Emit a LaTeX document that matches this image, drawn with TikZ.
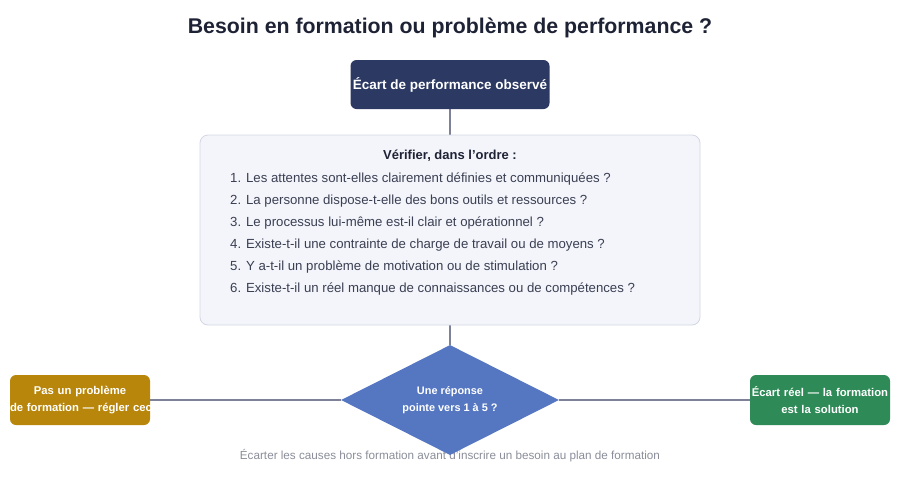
\documentclass[tikz,border=0pt]{standalone}
\usepackage{fontspec}
\setmainfont{Liberation Sans}
\definecolor{titlenavy}{RGB}{30, 34, 53}
\definecolor{boxnavy}{RGB}{44, 58, 99}
\definecolor{panelfill}{RGB}{244, 245, 251}
\definecolor{paneledge}{RGB}{211, 214, 228}
\definecolor{decblue}{RGB}{85, 119, 193}
\definecolor{nogold}{RGB}{184, 134, 11}
\definecolor{gogreen}{RGB}{46, 139, 87}
\definecolor{linkgray}{RGB}{125, 130, 152}
\definecolor{bodytext}{RGB}{58, 63, 82}
\definecolor{notegray}{RGB}{138, 141, 153}
\usetikzlibrary{shapes.geometric, positioning, backgrounds}
\tikzset{
  link/.style={draw=linkgray, line width=1.2pt},
  endbox/.style={rounded corners=6pt, minimum width=140pt, minimum height=50pt, text width=140pt,
    text=white, font=\bfseries\fontsize{11.3}{17}\selectfont, align=center, inner sep=0pt},
  checkline/.style={anchor=west, text=bodytext, font=\fontsize{13.2}{15}\selectfont, inner sep=0pt}
}
\begin{document}
\begin{tikzpicture}[x=1pt, y=-1pt]
  \useasboundingbox (0, 0) rectangle (900, 480);

  % Title
  \node[font=\bfseries\fontsize{21.3}{25}\selectfont, text=titlenavy] (title) at (450, 28)
    {Besoin en formation ou problème de performance ?};

  % Observed gap
  \node[fill=boxnavy, rounded corners=6pt, minimum width=199pt, minimum height=49pt,
    text=white, font=\bfseries\fontsize{13.5}{16}\selectfont, inner sep=0pt] (gap) at (450, 84.5)
    {Écart de performance observé};

  % Checklist panel
  \node[fill=panelfill, draw=paneledge, line width=0.8pt, rounded corners=8pt,
    minimum width=500pt, minimum height=190pt, inner sep=0pt] (panel) at (450, 230) {};
  \node[font=\bfseries\fontsize{13}{15}\selectfont, text=titlenavy] (check) at (450, 156)
    {Vérifier, dans l'ordre :};
  \node[checkline] (item1) at (230, 179) {1. Les attentes sont-elles clairement définies et communiquées ?};
  \node[checkline] (item2) at (230, 201) {2. La personne dispose-t-elle des bons outils et ressources ?};
  \node[checkline] (item3) at (230, 223) {3. Le processus lui-même est-il clair et opérationnel ?};
  \node[checkline] (item4) at (230, 245) {4. Existe-t-il une contrainte de charge de travail ou de moyens ?};
  \node[checkline] (item5) at (230, 267) {5. Y a-t-il un problème de motivation ou de stimulation ?};
  \node[checkline] (item6) at (230, 289) {6. Existe-t-il un réel manque de connaissances ou de compétences ?};

  % Footer note
  \node[font=\fontsize{11.7}{13}\selectfont, text=notegray] (note) at (450, 456)
    {Écarter les causes hors formation avant d'inscrire un besoin au plan de formation};

  % Decision and outcomes
  \node[diamond, aspect=2, fill=decblue, minimum width=218pt, minimum height=110pt, inner sep=0pt,
    text=white, font=\bfseries\fontsize{10.9}{17}\selectfont, align=center] (decide) at (450, 400)
    {Une réponse\\pointe vers 1 à 5 ?};
  \node[endbox, fill=nogold] (notrain) at (80, 400) {Pas un problème\\\mbox{de formation — régler ceci}};
  \node[endbox, fill=gogreen] (train) at (820, 400) {Écart réel — la formation\\est la solution};

  % Connectors
  \begin{scope}[on background layer]
    \draw[link] (gap) -- (panel);
    \draw[link] (panel) -- (decide);
    \draw[link] (decide.west) -- (notrain.east);
    \draw[link] (decide.east) -- (train.west);
  \end{scope}
\end{tikzpicture}
\end{document}
